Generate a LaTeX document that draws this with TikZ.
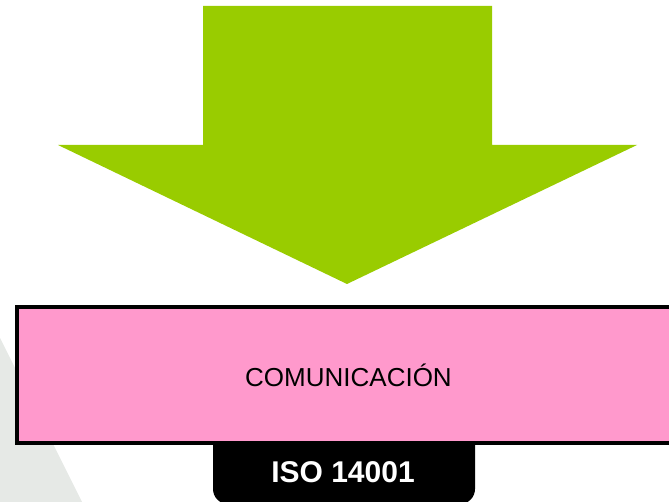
\documentclass[tikz,border=0pt]{standalone}
\usepackage{fontspec}
\setmainfont{Liberation Sans}
\definecolor{arrowgreen}{HTML}{99CC00}
\definecolor{boxpink}{HTML}{FF99CC}
\definecolor{bggray}{HTML}{E6E9E6}
\tikzset{
  commbox/.style={draw=black, line width=4pt, fill=boxpink, minimum width=663pt, minimum height=136pt, inner sep=0pt, font=\fontsize{26}{30}\selectfont},
  isotext/.style={text=white, font=\bfseries\fontsize{30}{34}\selectfont, inner sep=0pt}
}
\begin{document}
\begin{tikzpicture}[x=1pt, y=-1pt]
\useasboundingbox (0,0) rectangle (669,502);
\clip (0,0) rectangle (669,502);
% background gray wedge
\fill[bggray] (0,338) -- (82,502) -- (0,502) -- cycle;
% big down arrow
\fill[arrowgreen] (203,6) -- (492,6) -- (492,145) -- (637,145) -- (347,284) -- (58,145) -- (203,145) -- cycle;
% black tab
\fill[black, rounded corners=15pt] (213,430) -- (213,504) -- (475,504) -- (475,430) -- cycle;
\node[isotext] (iso) at (343,472) {ISO 14001};
% pink box
\node[commbox] (comm) at (348.5,375) {COMUNICACIÓN};
\end{tikzpicture}
\end{document}
